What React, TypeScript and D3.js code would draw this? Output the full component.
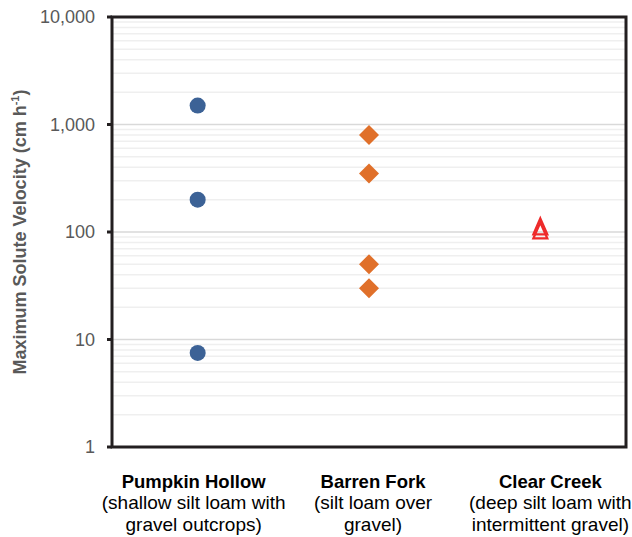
import React from "react";
import * as d3 from "d3";

const categories = ["Pumpkin Hollow", "Barren Fork", "Clear Creek"];
const subtitles = [
  ["(shallow silt loam with", "gravel outcrops)"],
  ["(silt loam over", "gravel)"],
  ["(deep silt loam with", "intermittent gravel)"],
];
const pumpkinHollow = [1500, 200, 7.5];
const barrenFork = [800, 350, 50, 30];
const clearCreek = [98, 107];
const yTicks = [1, 10, 100, 1000, 10000];

const W = 632, H = 537;
const M = { left: 112, right: 6, top: 17, bottom: 90 };
const labelShift = [-4, 4, 10];

export default function App() {
  const x = d3.scaleBand().domain(categories).range([M.left, W - M.right]).padding(0);
  const y = d3.scaleLog().domain([1, 10000]).range([H - M.bottom, M.top]);
  const fmt = d3.format(",");
  const minor: number[] = [];
  for (let d = 1; d < 10000; d *= 10) for (let k = 2; k <= 9; k++) minor.push(d * k);
  const cx = (c: string) => (x(c) as number) + x.bandwidth() / 2;
  const triPath = "M0,-10.5L7,5.5L-7,5.5Z";
  const sq = d3.symbol().type(d3.symbolSquare).size(200);
  return (
    <svg width={W} height={H} style={{ display: "block", position: "absolute", left: 0, top: 0 }}
      fontFamily="'Liberation Sans', Arial, sans-serif">
      <rect width={W} height={H} fill="#fff" />
      {minor.map((v) => (
        <line key={"m" + v} x1={M.left} x2={W - M.right} y1={y(v)} y2={y(v)} stroke="#efefef" strokeWidth={1.5} />
      ))}
      {yTicks.slice(1, -1).map((v) => (
        <line key={"g" + v} x1={M.left} x2={W - M.right} y1={y(v)} y2={y(v)} stroke="#d9d9d9" strokeWidth={1.5} />
      ))}
      {yTicks.map((v) => (
        <g key={"t" + v}>
          <line x1={M.left - 5} x2={M.left} y1={y(v)} y2={y(v)} stroke="#231f20" strokeWidth={3} />
          <text x={M.left - 17} y={y(v)} dy="0.35em" textAnchor="end" fontSize={18} fill="#595959">{fmt(v)}</text>
        </g>
      ))}
      <rect x={M.left} y={M.top} width={W - M.right - M.left} height={H - M.bottom - M.top}
        fill="none" stroke="#231f20" strokeWidth={3} />
      {pumpkinHollow.map((v, i) => (
        <circle key={"p" + i} cx={cx(categories[0])} cy={y(v)} r={8} fill="#3c6296" />
      ))}
      {barrenFork.map((v, i) => (
        <path key={"b" + i} d={sq() as string}
          transform={`translate(${cx(categories[1])},${y(v)}) rotate(45)`} fill="#e0702a" />
      ))}
      {clearCreek.map((v, i) => (
        <path key={"c" + i} d={triPath} transform={`translate(${cx(categories[2])},${y(v)})`}
          fill="none" stroke="#ee2a2a" strokeWidth={2.2} />
      ))}
      <text transform={`translate(26,${(M.top + H - M.bottom) / 2}) rotate(-90)`} textAnchor="middle"
        fontSize={18} fontWeight="bold" fill="#595959">
        Maximum Solute Velocity (cm h<tspan dy={-7} fontSize={11}>-1</tspan><tspan dy={7}>)</tspan>
      </text>
      {categories.map((c, i) => (
        <g key={"c" + c}>
          <text x={cx(c) + labelShift[i]} y={488} textAnchor="middle" fontSize={18.5} fontWeight="bold" fill="#000">{c}</text>
          {subtitles[i].map((s, j) => (
            <text key={j} x={cx(c) + labelShift[i]} y={509 + j * 22} textAnchor="middle" fontSize={19} fill="#000">{s}</text>
          ))}
        </g>
      ))}
    </svg>
  );
}
